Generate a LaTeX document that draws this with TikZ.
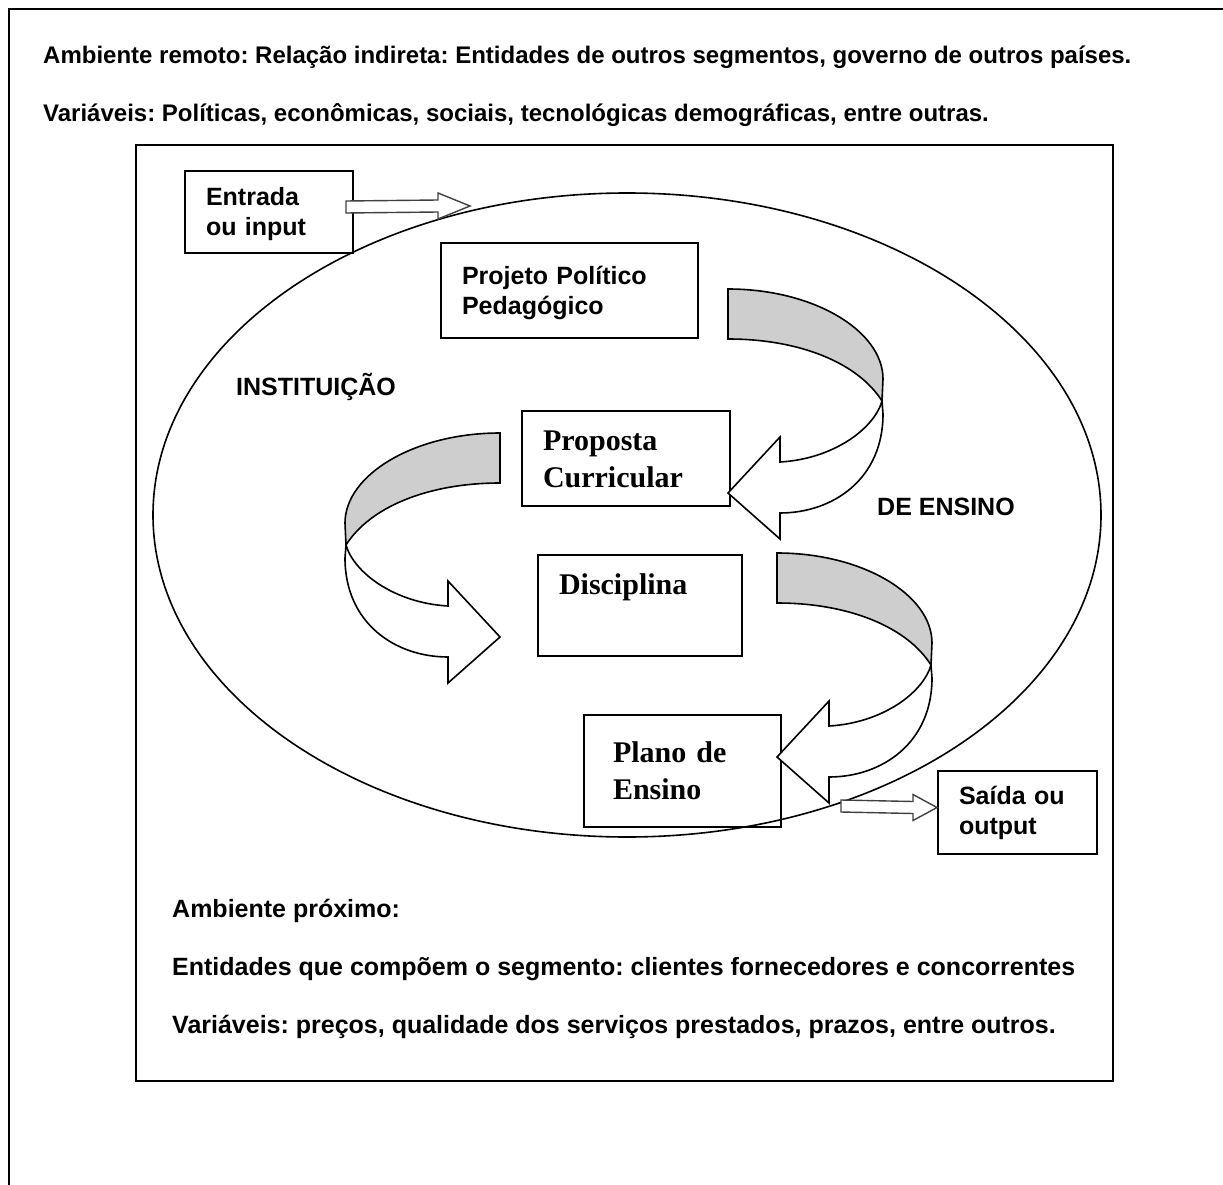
\documentclass[tikz,border=0pt]{standalone}
\usepackage{fontspec}
\setmainfont{Liberation Sans}
\newfontfamily\serifbf{Liberation Serif}
\usepackage{xcolor}
\usepackage{tikz}
\usetikzlibrary{shapes.geometric, calc, positioning}
\frenchspacing

\definecolor{ribbongray}{RGB}{206,206,206}
\definecolor{arrowline}{RGB}{64,64,64}

\newcommand{\labelfont}{\fontsize{25}{30}\selectfont\bfseries}
\newcommand{\stageserif}{\fontsize{30}{37}\selectfont\serifbf\bfseries}
\newcommand{\envfont}{\fontsize{24}{28}\selectfont\bfseries}
\newcommand{\nearfont}{\fontsize{25}{28}\selectfont\bfseries}

% white block arrow: from, tip, head length
\newcommand{\blockarrow}[3]{%
  \draw[blockarr] ($(#1)+(0,-6)$) -- ($(#2)+(-#3,-6)$) -- ($(#2)+(-#3,-13)$) -- (#2)
    -- ($(#2)+(-#3,13)$) -- ($(#2)+(-#3,6)$) -- ($(#1)+(0,6)$) -- cycle;}

% folded u-turn ribbon arrow, local frame at its top left corner
\newcommand{\uturn}{%
  \filldraw[ribbonback] (0,0) .. controls (86,0) and (155,42) .. (155,90) -- (154,112)
    .. controls (130,74) and (72,50) .. (0,50) -- cycle;
  \filldraw[ribbonfront] (154,112) .. controls (146,140) and (105,170) .. (52,173)
    -- (52,148) -- (0,204) -- (52,250) -- (52,224)
    .. controls (105,224) and (155,190) .. (155,125) -- cycle;}

\begin{document}
\begin{tikzpicture}[
    x=1pt, y=-1pt,
    stage/.style={rectangle, draw, line width=2pt, anchor=north west, align=left, inner ysep=0pt, inner xsep=21pt},
    envtext/.style={anchor=base west, inner sep=0pt, font=\envfont},
    neartext/.style={anchor=base west, inner sep=0pt, font=\nearfont},
    sidelabel/.style={anchor=base west, inner sep=0pt, font=\labelfont},
    ribbonback/.style={draw, line width=1.6pt, fill=ribbongray},
    ribbonfront/.style={draw, line width=1.6pt, fill=white},
    blockarr/.style={draw=arrowline, line width=1.4pt, fill=white}
]
\useasboundingbox (0,0) rectangle (1223,1185);

% Outer frame (remote environment)
\draw[line width=2.5pt] (9,1185) -- (9,9) -- (1223,9);
\node[envtext] (remoto) at (43,64) {Ambiente remoto: Relação indireta: Entidades de outros segmentos, governo de outros países.};
\node[envtext] (remotovar) at (43,122) {Variáveis: Políticas, econômicas, sociais, tecnológicas demográficas, entre outras.};

% Inner frame (near environment)
\draw[line width=2pt] (136,145) rectangle (1113,1081);

% Institution
\node[ellipse, draw, line width=1.6pt, minimum width=948pt, minimum height=644pt, inner sep=0pt] (inst) at (627,515) {};
\node[sidelabel] (instlabel) at (236,395) {INSTITUIÇÃO};
\node[sidelabel] (ensinolabel) at (877,515) {DE ENSINO};

% Stages
\node[stage, text width=126pt, text height=34pt, text depth=48pt, font=\labelfont] (entrada) at (184,170) {Entrada\\ou input};
\node[stage, text width=215pt, text height=41pt, text depth=54pt, font=\labelfont] (projeto) at (440,242) {Projeto Político\\Pedagógico};
\node[stage, text width=166pt, text height=39pt, text depth=56pt, font=\stageserif] (proposta) at (521,410) {Proposta\\Curricular};
\node[stage, text width=162pt, text height=39pt, text depth=62pt, font=\stageserif] (disciplina) at (537,554) {Disciplina};
\node[stage, text width=139pt, text height=47pt, text depth=65pt, inner xsep=29pt, font=\stageserif] (plano) at (583,714) {Plano de\\Ensino};
\node[stage, text width=117pt, text height=33pt, text depth=50pt, font=\labelfont] (saida) at (937,770) {Saída ou\\output};

% Input and output arrows
\coordinate (inbase) at ($(entrada.east)+(-8,-5)$);
\coordinate (intip) at (470,206);
\coordinate (outbase) at (841,806);
\coordinate (outtip) at ($(saida.west)+(0,-5)$);
\blockarrow{inbase}{intip}{32}
\blockarrow{outbase}{outtip}{24}

% Ribbon arrows between stages
\begin{scope}[shift={(728,289)}]
  \uturn
\end{scope}
\begin{scope}[shift={(500,433)}, xscale=-1]
  \uturn
\end{scope}
\begin{scope}[shift={(777,553)}]
  \uturn
\end{scope}

% Near environment texts
\node[neartext] (proximo) at (172,917) {Ambiente próximo:};
\node[neartext] (proxent) at (172,975) {Entidades que compõem o segmento: clientes fornecedores e concorrentes};
\node[neartext] (proxvar) at (172,1033) {Variáveis: preços, qualidade dos serviços prestados, prazos, entre outros.};

\end{tikzpicture}
\end{document}
